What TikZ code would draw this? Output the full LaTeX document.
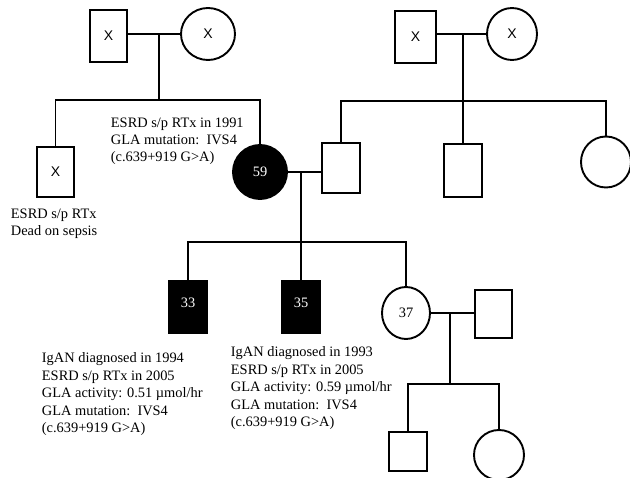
\documentclass[tikz,border=0pt]{standalone}
\usepackage{fontspec}
\setmainfont{Liberation Serif}
\newfontfamily\xfont{Liberation Sans}
\usetikzlibrary{shapes.geometric}
\begin{document}
\begin{tikzpicture}[x=1pt,y=-1pt,line width=1.9pt,
  font=\fontsize{14.4}{17.5}\selectfont,
  male/.style={draw,rectangle,inner sep=0pt,minimum width=38pt,minimum height=51pt},
  female/.style={draw,ellipse,inner sep=0pt,minimum width=52pt,minimum height=52pt},
  aff/.style={fill=black,text=white},
  xm/.style={font=\xfont\fontsize{14}{14}\selectfont},
  lab/.style={anchor=base west,align=left,inner sep=0pt}]
\useasboundingbox (0,0) rectangle (630,478);
% generation I
\node[male,xm,minimum width=37pt,minimum height=52pt] (gf1) at (108.5,36) {X};
\node[female,xm,minimum width=54pt] (gm1) at (208,34) {X};
\coordinate (c1) at (159,34);
\coordinate (s1) at (159,100);
\draw (gf1.east |- gm1.west) -- (gm1.west);
\draw (c1) -- (s1);
\node[male,xm,minimum width=37pt,minimum height=50pt] (u1) at (55.5,172) {X};
\node[female,aff,minimum width=54pt,minimum height=54pt] (p59) at (260,172) {59};
\draw (u1.north) |- (s1) -| (p59.north);
\node[male,xm,minimum width=41pt,minimum height=52pt] (gf2) at (415.5,37) {X};
\node[female,xm,minimum width=50pt] (gm2) at (512,34) {X};
\coordinate (c2) at (463,34);
\coordinate (s2) at (463,101);
\draw (gf2.east |- gm2.west) -- (gm2.west);
\draw (c2) -- (s2);
\node[male,minimum height=50pt] (h59) at (341,168) {};
\node[male,minimum height=53pt] (b2) at (463,170.5) {};
\node[female,minimum width=50pt,minimum height=51pt] (sis) at (606,162) {};
\draw (h59.north) |- (s2) -| (sis.north);
\draw (s2) -- (b2.north);
% generation II
\draw (p59.east) -- (p59.east -| h59.west);
\coordinate (c3) at (301,172);
\coordinate (s3) at (301,242);
\node[male,aff,minimum width=39pt,minimum height=52pt,text depth=8pt] (s33) at (188,307) {33};
\node[male,aff,minimum width=39pt,minimum height=52pt,text depth=8pt] (s35) at (301,307) {35};
\node[female,minimum width=48pt,minimum height=52pt] (d37) at (406,313) {37};
\draw (c3) -- (s35.north);
\draw (s33.north) |- (s3) -| (d37.north);
\node[male,minimum width=37pt,minimum height=48pt] (h37) at (493.5,314) {};
\draw (d37.east) -- (d37.east -| h37.west);
\coordinate (c4) at (450,313);
\coordinate (s4) at (450,384);
\draw (c4) -- (s4);
\node[male,minimum width=38pt,minimum height=39pt] (g1) at (408,451.5) {};
\node[female,minimum width=50pt,minimum height=50pt] (g2) at (499,455) {};
\draw (g1.north) |- (s4) -| (g2.north);
% labels (anchored at the baseline of their last line)
\node[lab,font=\fontsize{14.4}{16.7}\selectfont] (t1) at (110,161.4)
  {ESRD s/p RTx in 1991\\GLA mutation:\ \ IVS4\\(c.639+919 G>A)};
\node[lab,font=\fontsize{14.4}{17}\selectfont] (t2) at (10,236)
  {ESRD s/p RTx\\Dead on sepsis};
\node[lab] (t3) at (41,432.7)
  {IgAN diagnosed in 1994\\ESRD s/p RTx in 2005\\GLA activity: 0.51 µmol/hr\\GLA mutation:\ \ IVS4\\(c.639+919 G>A)};
\node[lab] (t4) at (230,427)
  {IgAN diagnosed in 1993\\ESRD s/p RTx in 2005\\GLA activity: 0.59 µmol/hr\\GLA mutation:\ \ IVS4\\(c.639+919 G>A)};
\end{tikzpicture}
\end{document}
